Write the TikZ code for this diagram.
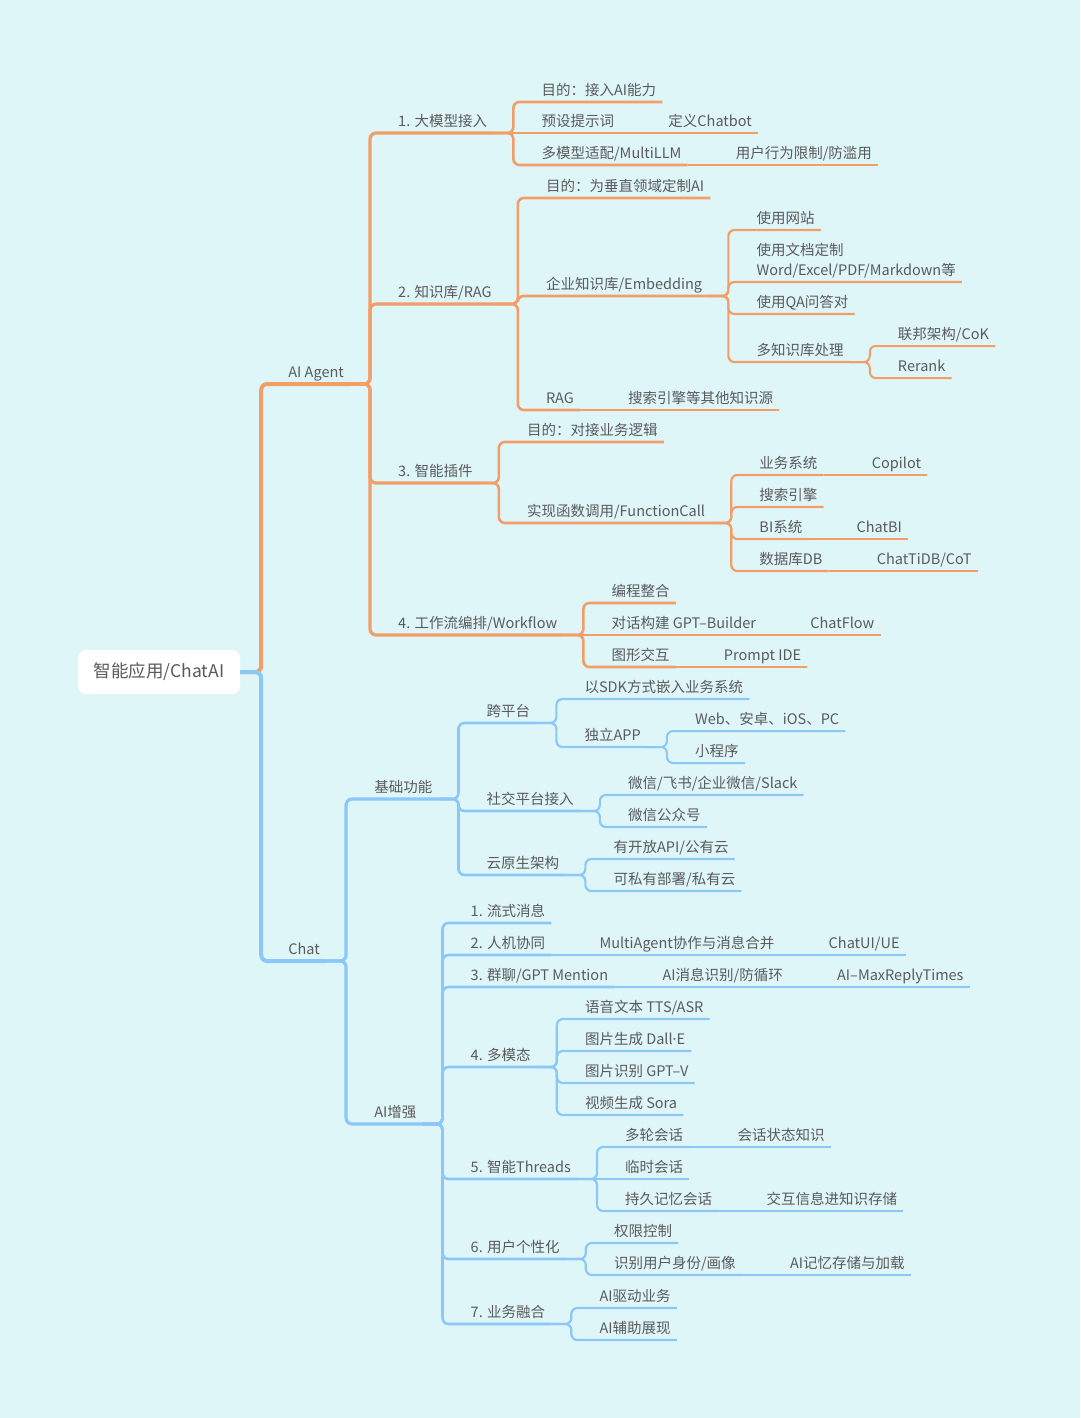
\documentclass[tikz,border=0pt]{standalone}
\usepackage{fontspec}
\setmainfont{Noto Sans CJK SC}
\newfontfamily\latinfont{Noto Sans}
\usepackage{tikz}
\definecolor{mmbg}{HTML}{DFF6F9}
\definecolor{mmorange}{HTML}{F39E68}
\definecolor{mmblue}{HTML}{8CC8F7}
\definecolor{mmtext}{HTML}{5A5A5A}
\tikzset{
  mmroot/.style={
    rounded corners=8pt, fill=white, text=mmtext,
    minimum width=162pt, minimum height=44pt, inner sep=0pt,
    font=\fontsize{17.5}{20}\selectfont
  },
  mmtopic/.style={
    anchor=south west, xshift=42pt, inner xsep=6pt, inner ysep=3pt,
    text depth=3.5pt, text=mmtext, font=\fontsize{14.5}{20}\selectfont
  },
  mmlink/.style={rounded corners=6pt, line width=#1},
  mmagent/.style={mmlink=#1, draw=mmorange},
  mmchat/.style={mmlink=#1, draw=mmblue}
}

\begin{document}
\begin{tikzpicture}[x=1pt,y=-1pt]
  \fill[mmbg] (0,0) rectangle (1080,1418);
  \useasboundingbox (0,0) rectangle (1080,1418);
  % root and the two main branches
  \node[mmroot] (root) at (159,672) {智能应用/ChatAI};
  \node[mmtopic] (agent) at (root.east |- 0,384) {AI Agent};
  \node[mmtopic] (chat) at (root.east |- 0,961) {Chat};
  % AI Agent
  \node[mmtopic] (a1) at (agent.south east |- 0,133) {1. 大模型接入};
  \node[mmtopic] (a1a) at (a1.south east |- 0,102) {目的：接入AI能力};
  \node[mmtopic] (a1b) at (a1.south east |- 0,133) {预设提示词};
  \node[mmtopic] (a1b1) at (a1b.south east |- 0,133) {定义Chatbot};
  \node[mmtopic] (a1c) at (a1.south east |- 0,165) {多模型适配/MultiLLM};
  \node[mmtopic] (a1c1) at (a1c.south east |- 0,165) {用户行为限制/防滥用};
  \node[mmtopic] (a2) at (agent.south east |- 0,304) {2. 知识库/RAG};
  \node[mmtopic] (a2a) at (a2.south east |- 0,198) {目的：为垂直领域定制AI};
  \node[mmtopic] (a2b) at (a2.south east |- 0,296) {企业知识库/Embedding};
  \node[mmtopic] (a2b1) at (a2b.south east |- 0,230) {使用网站};
  \node[mmtopic,align=left] (a2b2) at (a2b.south east |- 0,282) {使用文档定制\\Word/Excel/PDF/Markdown等};
  \node[mmtopic] (a2b3) at (a2b.south east |- 0,314) {使用QA问答对};
  \node[mmtopic] (a2b4) at (a2b.south east |- 0,362) {多知识库处理};
  \node[mmtopic] (a2b4a) at (a2b4.south east |- 0,346) {联邦架构/CoK};
  \node[mmtopic] (a2b4b) at (a2b4.south east |- 0,378) {Rerank};
  \node[mmtopic] (a2c) at (a2.south east |- 0,410) {RAG};
  \node[mmtopic] (a2c1) at (a2c.south east |- 0,410) {搜索引擎等其他知识源};
  \node[mmtopic] (a3) at (agent.south east |- 0,483) {3. 智能插件};
  \node[mmtopic] (a3a) at (a3.south east |- 0,442) {目的：对接业务逻辑};
  \node[mmtopic] (a3b) at (a3.south east |- 0,523) {实现函数调用/FunctionCall};
  \node[mmtopic] (a3b1) at (a3b.south east |- 0,475) {业务系统};
  \node[mmtopic] (a3b1a) at (a3b1.south east |- 0,475) {Copilot};
  \node[mmtopic] (a3b2) at (a3b.south east |- 0,507) {搜索引擎};
  \node[mmtopic] (a3b3) at (a3b.south east |- 0,539) {BI系统};
  \node[mmtopic] (a3b3a) at (a3b3.south east |- 0,539) {ChatBI};
  \node[mmtopic] (a3b4) at (a3b.south east |- 0,571) {数据库DB};
  \node[mmtopic] (a3b4a) at (a3b4.south east |- 0,571) {ChatTiDB/CoT};
  \node[mmtopic] (a4) at (agent.south east |- 0,635) {4. 工作流编排/Workflow};
  \node[mmtopic] (a4a) at (a4.south east |- 0,603) {编程整合};
  \node[mmtopic] (a4b) at (a4.south east |- 0,635) {对话构建 GPT–Builder};
  \node[mmtopic] (a4b1) at (a4b.south east |- 0,635) {ChatFlow};
  \node[mmtopic] (a4c) at (a4.south east |- 0,667) {图形交互};
  \node[mmtopic] (a4c1) at (a4c.south east |- 0,667) {Prompt IDE};
  % Chat
  \node[mmtopic] (c1) at (chat.south east |- 0,799) {基础功能};
  \node[mmtopic] (c1a) at (c1.south east |- 0,723) {跨平台};
  \node[mmtopic] (c1a1) at (c1a.south east |- 0,699) {以SDK方式嵌入业务系统};
  \node[mmtopic] (c1a2) at (c1a.south east |- 0,747) {独立APP};
  \node[mmtopic] (c1a2a) at (c1a2.south east |- 0,731) {Web、安卓、iOS、PC};
  \node[mmtopic] (c1a2b) at (c1a2.south east |- 0,763) {小程序};
  \node[mmtopic] (c1b) at (c1.south east |- 0,811) {社交平台接入};
  \node[mmtopic] (c1b1) at (c1b.south east |- 0,795) {微信/飞书/企业微信/Slack};
  \node[mmtopic] (c1b2) at (c1b.south east |- 0,827) {微信公众号};
  \node[mmtopic] (c1c) at (c1.south east |- 0,875) {云原生架构};
  \node[mmtopic] (c1c1) at (c1c.south east |- 0,859) {有开放API/公有云};
  \node[mmtopic] (c1c2) at (c1c.south east |- 0,891) {可私有部署/私有云};
  \node[mmtopic] (c2) at (chat.south east |- 0,1124) {AI增强};
  \node[mmtopic] (c2a) at (c2.south east |- 0,923) {1. 流式消息};
  \node[mmtopic] (c2b) at (c2.south east |- 0,955) {2. 人机协同};
  \node[mmtopic] (c2b1) at (c2b.south east |- 0,955) {MultiAgent协作与消息合并};
  \node[mmtopic] (c2b1a) at (c2b1.south east |- 0,955) {ChatUI/UE};
  \node[mmtopic] (c2c) at (c2.south east |- 0,987) {3. 群聊/GPT Mention};
  \node[mmtopic] (c2c1) at (c2c.south east |- 0,987) {AI消息识别/防循环};
  \node[mmtopic] (c2c1a) at (c2c1.south east |- 0,987) {AI–MaxReplyTimes};
  \node[mmtopic] (c2d) at (c2.south east |- 0,1067) {4. 多模态};
  \node[mmtopic] (c2d1) at (c2d.south east |- 0,1019) {语音文本 TTS/ASR};
  \node[mmtopic] (c2d2) at (c2d.south east |- 0,1051) {图片生成 Dall{\latinfont ·}E};
  \node[mmtopic] (c2d3) at (c2d.south east |- 0,1083) {图片识别 GPT–V};
  \node[mmtopic] (c2d4) at (c2d.south east |- 0,1115) {视频生成 Sora};
  \node[mmtopic] (c2e) at (c2.south east |- 0,1179) {5. 智能Threads};
  \node[mmtopic] (c2e1) at (c2e.south east |- 0,1147) {多轮会话};
  \node[mmtopic] (c2e1a) at (c2e1.south east |- 0,1147) {会话状态知识};
  \node[mmtopic] (c2e2) at (c2e.south east |- 0,1179) {临时会话};
  \node[mmtopic] (c2e3) at (c2e.south east |- 0,1211) {持久记忆会话};
  \node[mmtopic] (c2e3a) at (c2e3.south east |- 0,1211) {交互信息进知识存储};
  \node[mmtopic] (c2f) at (c2.south east |- 0,1259) {6. 用户个性化};
  \node[mmtopic] (c2f1) at (c2f.south east |- 0,1243) {权限控制};
  \node[mmtopic] (c2f2) at (c2f.south east |- 0,1275) {识别用户身份/画像};
  \node[mmtopic] (c2f2a) at (c2f2.south east |- 0,1275) {AI记忆存储与加载};
  \node[mmtopic] (c2g) at (c2.south east |- 0,1324) {7. 业务融合};
  \node[mmtopic] (c2g1) at (c2g.south east |- 0,1308) {AI驱动业务};
  \node[mmtopic] (c2g2) at (c2g.south east |- 0,1340) {AI辅助展现};

  % orange branch
  \draw[mmagent=4pt] (root.east) -- ++(21,0) |- (agent.south east);
  \draw[mmagent=3.2pt] (agent.south east) -- ++(20,0) |- (a1.south east);
  \draw[mmagent=3.2pt] (agent.south east) -- ++(20,0) |- (a2.south east);
  \draw[mmagent=3.2pt] (agent.south east) -- ++(20,0) |- (a3.south east);
  \draw[mmagent=3.2pt] (agent.south east) -- ++(20,0) |- (a4.south east);
  \draw[mmagent=2.6pt] (a1.south east) -- ++(20,0) |- (a1a.south east);
  \draw[mmagent=2.6pt] (a1.south east) -- (a1b.south east);
  \draw[mmagent=2.6pt] (a1.south east) -- ++(20,0) |- (a1c.south east);
  \draw[mmagent=2.2pt] (a1b.south east) -- (a1b1.south east);
  \draw[mmagent=2.2pt] (a1c.south east) -- (a1c1.south east);
  \draw[mmagent=2.6pt] (a2.south east) -- ++(20,0) |- (a2a.south east);
  \draw[mmagent=2.6pt] (a2.south east) -- ++(20,0) |- (a2b.south east);
  \draw[mmagent=2.6pt] (a2.south east) -- ++(20,0) |- (a2c.south east);
  \draw[mmagent=2.2pt] (a2b.south east) -- ++(20,0) |- (a2b1.south east);
  \draw[mmagent=2.2pt] (a2b.south east) -- ++(20,0) |- (a2b2.south east);
  \draw[mmagent=2.2pt] (a2b.south east) -- ++(20,0) |- (a2b3.south east);
  \draw[mmagent=2.2pt] (a2b.south east) -- ++(20,0) |- (a2b4.south east);
  \draw[mmagent=2pt] (a2b4.south east) -- ++(20,0) |- (a2b4a.south east);
  \draw[mmagent=2pt] (a2b4.south east) -- ++(20,0) |- (a2b4b.south east);
  \draw[mmagent=2.2pt] (a2c.south east) -- (a2c1.south east);
  \draw[mmagent=2.6pt] (a3.south east) -- ++(20,0) |- (a3a.south east);
  \draw[mmagent=2.6pt] (a3.south east) -- ++(20,0) |- (a3b.south east);
  \draw[mmagent=2.2pt] (a3b.south east) -- ++(20,0) |- (a3b1.south east);
  \draw[mmagent=2.2pt] (a3b.south east) -- ++(20,0) |- (a3b2.south east);
  \draw[mmagent=2.2pt] (a3b.south east) -- ++(20,0) |- (a3b3.south east);
  \draw[mmagent=2.2pt] (a3b.south east) -- ++(20,0) |- (a3b4.south east);
  \draw[mmagent=2pt] (a3b1.south east) -- (a3b1a.south east);
  \draw[mmagent=2pt] (a3b3.south east) -- (a3b3a.south east);
  \draw[mmagent=2pt] (a3b4.south east) -- (a3b4a.south east);
  \draw[mmagent=2.6pt] (a4.south east) -- ++(20,0) |- (a4a.south east);
  \draw[mmagent=2.6pt] (a4.south east) -- (a4b.south east);
  \draw[mmagent=2.6pt] (a4.south east) -- ++(20,0) |- (a4c.south east);
  \draw[mmagent=2.2pt] (a4b.south east) -- (a4b1.south east);
  \draw[mmagent=2.2pt] (a4c.south east) -- (a4c1.south east);
  % blue branch
  \draw[mmchat=4pt] (root.east) -- ++(21,0) |- (chat.south east);
  \draw[mmchat=3.2pt] (chat.south east) -- ++(20,0) |- (c1.south east);
  \draw[mmchat=3.2pt] (chat.south east) -- ++(20,0) |- (c2.south east);
  \draw[mmchat=2.6pt] (c1.south east) -- ++(20,0) |- (c1a.south east);
  \draw[mmchat=2.6pt] (c1.south east) -- ++(20,0) |- (c1b.south east);
  \draw[mmchat=2.6pt] (c1.south east) -- ++(20,0) |- (c1c.south east);
  \draw[mmchat=2.2pt] (c1a.south east) -- ++(20,0) |- (c1a1.south east);
  \draw[mmchat=2.2pt] (c1a.south east) -- ++(20,0) |- (c1a2.south east);
  \draw[mmchat=2pt] (c1a2.south east) -- ++(20,0) |- (c1a2a.south east);
  \draw[mmchat=2pt] (c1a2.south east) -- ++(20,0) |- (c1a2b.south east);
  \draw[mmchat=2.2pt] (c1b.south east) -- ++(20,0) |- (c1b1.south east);
  \draw[mmchat=2.2pt] (c1b.south east) -- ++(20,0) |- (c1b2.south east);
  \draw[mmchat=2.2pt] (c1c.south east) -- ++(20,0) |- (c1c1.south east);
  \draw[mmchat=2.2pt] (c1c.south east) -- ++(20,0) |- (c1c2.south east);
  \draw[mmchat=2.6pt] (c2.south east) -- ++(20,0) |- (c2a.south east);
  \draw[mmchat=2.6pt] (c2.south east) -- ++(20,0) |- (c2b.south east);
  \draw[mmchat=2.6pt] (c2.south east) -- ++(20,0) |- (c2c.south east);
  \draw[mmchat=2.6pt] (c2.south east) -- ++(20,0) |- (c2d.south east);
  \draw[mmchat=2.6pt] (c2.south east) -- ++(20,0) |- (c2e.south east);
  \draw[mmchat=2.6pt] (c2.south east) -- ++(20,0) |- (c2f.south east);
  \draw[mmchat=2.6pt] (c2.south east) -- ++(20,0) |- (c2g.south east);
  \draw[mmchat=2.2pt] (c2b.south east) -- (c2b1.south east);
  \draw[mmchat=2pt] (c2b1.south east) -- (c2b1a.south east);
  \draw[mmchat=2.2pt] (c2c.south east) -- (c2c1.south east);
  \draw[mmchat=2pt] (c2c1.south east) -- (c2c1a.south east);
  \draw[mmchat=2.2pt] (c2d.south east) -- ++(20,0) |- (c2d1.south east);
  \draw[mmchat=2.2pt] (c2d.south east) -- ++(20,0) |- (c2d2.south east);
  \draw[mmchat=2.2pt] (c2d.south east) -- ++(20,0) |- (c2d3.south east);
  \draw[mmchat=2.2pt] (c2d.south east) -- ++(20,0) |- (c2d4.south east);
  \draw[mmchat=2.2pt] (c2e.south east) -- ++(20,0) |- (c2e1.south east);
  \draw[mmchat=2.2pt] (c2e.south east) -- (c2e2.south east);
  \draw[mmchat=2.2pt] (c2e.south east) -- ++(20,0) |- (c2e3.south east);
  \draw[mmchat=2pt] (c2e1.south east) -- (c2e1a.south east);
  \draw[mmchat=2pt] (c2e3.south east) -- (c2e3a.south east);
  \draw[mmchat=2.2pt] (c2f.south east) -- ++(20,0) |- (c2f1.south east);
  \draw[mmchat=2.2pt] (c2f.south east) -- ++(20,0) |- (c2f2.south east);
  \draw[mmchat=2pt] (c2f2.south east) -- (c2f2a.south east);
  \draw[mmchat=2.2pt] (c2g.south east) -- ++(20,0) |- (c2g1.south east);
  \draw[mmchat=2.2pt] (c2g.south east) -- ++(20,0) |- (c2g2.south east);
\end{tikzpicture}
\end{document}
